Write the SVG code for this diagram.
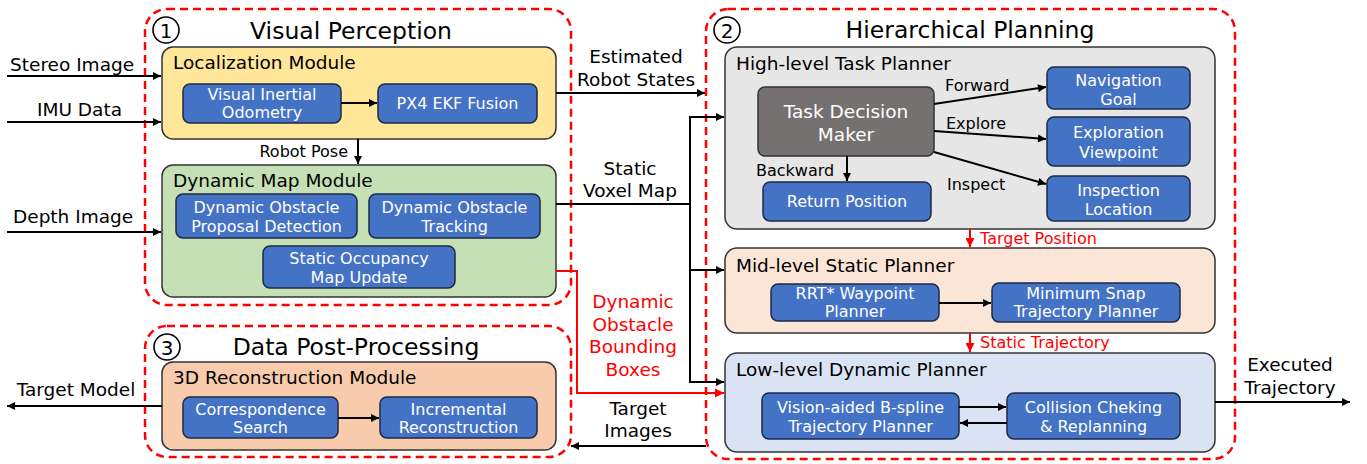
<svg xmlns="http://www.w3.org/2000/svg" width="1367" height="464" viewBox="0 0 1367 464">
<defs>
<style>
text{font-family:"DejaVu Sans","Liberation Sans",sans-serif;fill:#000}
.grp{fill:none;stroke:#FF0000;stroke-width:2.5;stroke-dasharray:8 5}
.mod{stroke:#333;stroke-width:1.5}
.blue{fill:#4472C4;stroke:#1E2A44;stroke-width:1.5}
.bt{fill:#fff;font-size:16px;text-anchor:middle}
.ml{font-size:18.5px}
.title{font-size:23.5px;text-anchor:middle}
.lab{font-size:18.5px}
.sl{font-size:16px}
.red{fill:#FF0000}
.cn{fill:none;stroke:#000;stroke-width:2}
.cr{fill:none;stroke:#FF0000;stroke-width:2}
.circ{fill:none;stroke:#000;stroke-width:1.6}
</style>
<marker id="ah" viewBox="0 0 10 10" refX="10" refY="5" markerWidth="9" markerHeight="8" markerUnits="userSpaceOnUse" orient="auto"><path d="M0,0 L10,5 L0,10 z" fill="#000"/></marker>
<marker id="ahr" viewBox="0 0 10 10" refX="10" refY="5" markerWidth="10" markerHeight="9" markerUnits="userSpaceOnUse" orient="auto"><path d="M0,0 L10,5 L0,10 z" fill="#FF0000"/></marker>
</defs>
<rect width="1367" height="464" fill="#fff"/>

<g id="group-visual-perception">
<rect class="grp" x="145" y="9" width="426" height="296" rx="22"/>
<circle class="circ" cx="166" cy="30" r="13"/>
<text x="166" y="37.5" font-size="20" text-anchor="middle">1</text>
<text class="title" x="351" y="39">Visual Perception</text>
</g>

<g id="localization-module">
<rect class="mod" x="162" y="47" width="394" height="92" rx="11" fill="#FFE699"/>
<text class="ml" x="173" y="69">Localization Module</text>
</g>
<g id="vio">
<rect class="blue" x="183" y="84" width="158" height="39" rx="7"/>
<text class="bt" x="262" y="100">Visual Inertial</text>
<text class="bt" x="262" y="118">Odometry</text>
</g>
<g id="px4">
<rect class="blue" x="378" y="84" width="159" height="39" rx="7"/>
<text class="bt" x="457.5" y="109">PX4 EKF Fusion</text>
</g>

<g id="dynamic-map-module">
<rect class="mod" x="162" y="165" width="394" height="132" rx="11" fill="#C5E0B4"/>
<text class="ml" x="173" y="187">Dynamic Map Module</text>
</g>
<g id="dopd">
<rect class="blue" x="176" y="194" width="181" height="44" rx="7"/>
<text class="bt" x="266.5" y="213">Dynamic Obstacle</text>
<text class="bt" x="266.5" y="232">Proposal Detection</text>
</g>
<g id="dot">
<rect class="blue" x="369" y="194" width="171" height="44" rx="7"/>
<text class="bt" x="454.5" y="213">Dynamic Obstacle</text>
<text class="bt" x="454.5" y="232">Tracking</text>
</g>
<g id="somu">
<rect class="blue" x="263" y="246" width="192" height="42" rx="7"/>
<text class="bt" x="359" y="264">Static Occupancy</text>
<text class="bt" x="359" y="283">Map Update</text>
</g>

<g id="group-data-post-processing">
<rect class="grp" x="145" y="326" width="426" height="131" rx="22"/>
<circle class="circ" cx="167" cy="347" r="13"/>
<text x="167" y="354.5" font-size="20" text-anchor="middle">3</text>
<text class="title" x="356" y="355">Data Post-Processing</text>
</g>
<g id="reconstruction-module">
<rect class="mod" x="162" y="362" width="394" height="88" rx="11" fill="#F8CBAD"/>
<text class="ml" x="173" y="384">3D Reconstruction Module</text>
</g>
<g id="correspondence">
<rect class="blue" x="183" y="397" width="155" height="41" rx="7"/>
<text class="bt" x="260.5" y="415">Correspondence</text>
<text class="bt" x="260.5" y="433">Search</text>
</g>
<g id="incremental">
<rect class="blue" x="380" y="397" width="157" height="41" rx="7"/>
<text class="bt" x="458.5" y="415">Incremental</text>
<text class="bt" x="458.5" y="433">Reconstruction</text>
</g>

<g id="group-hierarchical-planning">
<rect class="grp" x="706" y="9" width="529" height="450" rx="22"/>
<circle class="circ" cx="727" cy="30" r="13"/>
<text x="727" y="37.5" font-size="20" text-anchor="middle">2</text>
<text class="title" x="970" y="38">Hierarchical Planning</text>
</g>

<g id="high-level-task-planner">
<rect class="mod" x="725" y="47" width="490" height="182" rx="12" fill="#E7E6E6"/>
<text class="ml" x="736" y="70">High-level Task Planner</text>
</g>
<g id="task-decision-maker">
<rect x="758" y="87" width="176" height="69" rx="7" fill="#767171" stroke="#333" stroke-width="1.5"/>
<text x="846" y="118" font-size="18.5" text-anchor="middle" style="fill:#fff">Task Decision</text>
<text x="846" y="141" font-size="18.5" text-anchor="middle" style="fill:#fff">Maker</text>
</g>
<g id="return-position">
<rect class="blue" x="763" y="182" width="168" height="39" rx="7"/>
<text class="bt" x="847" y="207">Return Position</text>
</g>
<g id="navigation-goal">
<rect class="blue" x="1047" y="67" width="143" height="42" rx="7"/>
<text class="bt" x="1118.5" y="86">Navigation</text>
<text class="bt" x="1118.5" y="105">Goal</text>
</g>
<g id="exploration-viewpoint">
<rect class="blue" x="1047" y="117" width="143" height="49" rx="7"/>
<text class="bt" x="1118.5" y="138">Exploration</text>
<text class="bt" x="1118.5" y="158">Viewpoint</text>
</g>
<g id="inspection-location">
<rect class="blue" x="1047" y="176" width="143" height="45" rx="7"/>
<text class="bt" x="1118.5" y="196">Inspection</text>
<text class="bt" x="1118.5" y="215">Location</text>
</g>

<g id="mid-level-static-planner">
<rect class="mod" x="725" y="248" width="490" height="85" rx="12" fill="#FBE5D6"/>
<text class="ml" x="736" y="272">Mid-level Static Planner</text>
</g>
<g id="rrt">
<rect class="blue" x="771" y="284" width="168" height="37" rx="7"/>
<text class="bt" x="855" y="299">RRT* Waypoint</text>
<text class="bt" x="855" y="317">Planner</text>
</g>
<g id="min-snap">
<rect class="blue" x="992" y="283" width="188" height="39" rx="7"/>
<text class="bt" x="1086" y="299">Minimum Snap</text>
<text class="bt" x="1086" y="317">Trajectory Planner</text>
</g>

<g id="low-level-dynamic-planner">
<rect class="mod" x="725" y="353" width="490" height="99" rx="12" fill="#DAE3F3"/>
<text class="ml" x="736" y="376">Low-level Dynamic Planner</text>
</g>
<g id="bspline">
<rect class="blue" x="762" y="393" width="197" height="46" rx="7"/>
<text class="bt" x="860.5" y="413">Vision-aided B-spline</text>
<text class="bt" x="860.5" y="432">Trajectory Planner</text>
</g>
<g id="collision">
<rect class="blue" x="1007" y="393" width="173" height="46" rx="7"/>
<text class="bt" x="1093.5" y="413">Collision Cheking</text>
<text class="bt" x="1093.5" y="432">&amp; Replanning</text>
</g>

<g id="connectors">
<path class="cn" d="M7,76 H161" marker-end="url(#ah)"/>
<path class="cn" d="M7,122 H161" marker-end="url(#ah)"/>
<path class="cn" d="M7,232 H161" marker-end="url(#ah)"/>
<path class="cn" d="M162,406 H7" marker-end="url(#ah)"/>
<path class="cn" d="M341,103 H377" marker-end="url(#ah)"/>
<path class="cn" d="M358,139 V164" marker-end="url(#ah)"/>
<path class="cn" d="M338,418 H379" marker-end="url(#ah)"/>
<path class="cn" d="M556,93 H705" marker-end="url(#ah)"/>
<path class="cn" d="M556,204 H690"/>
<path class="cn" d="M690,117 V382"/>
<path class="cn" d="M689,117 H724" marker-end="url(#ah)"/>
<path class="cn" d="M690,270 H724" marker-end="url(#ah)"/>
<path class="cn" d="M689,382 H724" marker-end="url(#ah)"/>
<path class="cr" d="M556,271 H577 V393 H724" marker-end="url(#ahr)"/>
<path class="cn" d="M706,446 H571" marker-end="url(#ah)"/>
<path class="cn" d="M1215,402 H1350" marker-end="url(#ah)"/>
<path class="cn" d="M934,104 L1046,87" marker-end="url(#ah)"/>
<path class="cn" d="M934,131 L1046,139" marker-end="url(#ah)"/>
<path class="cn" d="M934,152 L1046,184" marker-end="url(#ah)"/>
<path class="cn" d="M847,156 V181" marker-end="url(#ah)"/>
<path class="cn" d="M939,303 H991" marker-end="url(#ah)"/>
<path class="cn" d="M959,407 H1006" marker-end="url(#ah)"/>
<path class="cn" d="M1007,423 H960" marker-end="url(#ah)"/>
<path class="cr" d="M970,229 V247" marker-end="url(#ahr)"/>
<path class="cr" d="M970,333 V352" marker-end="url(#ahr)"/>
</g>

<g id="connector-labels">
<text class="lab" x="10" y="71">Stereo Image</text>
<text class="lab" x="79.5" y="116" text-anchor="middle">IMU Data</text>
<text class="lab" x="13" y="223">Depth Image</text>
<text class="lab" x="76" y="396" text-anchor="middle">Target Model</text>
<text class="sl" x="348" y="157" text-anchor="end">Robot Pose</text>
<text class="lab" x="636" y="63" text-anchor="middle">Estimated</text>
<text class="lab" x="636" y="86" text-anchor="middle">Robot States</text>
<text class="lab" x="630" y="175" text-anchor="middle">Static</text>
<text class="lab" x="630" y="197" text-anchor="middle">Voxel Map</text>
<text class="lab red" x="633" y="308" text-anchor="middle">Dynamic</text>
<text class="lab red" x="633" y="331" text-anchor="middle">Obstacle</text>
<text class="lab red" x="633" y="353" text-anchor="middle">Bounding</text>
<text class="lab red" x="633" y="376" text-anchor="middle">Boxes</text>
<text class="lab" x="638" y="415" text-anchor="middle">Target</text>
<text class="lab" x="638" y="437" text-anchor="middle">Images</text>
<text class="lab" x="1290" y="371" text-anchor="middle">Executed</text>
<text class="lab" x="1290" y="394" text-anchor="middle">Trajectory</text>
<text class="sl" x="945" y="91">Forward</text>
<text class="sl" x="946" y="129">Explore</text>
<text class="sl" x="947" y="190">Inspect</text>
<text class="sl" x="756" y="176">Backward</text>
<text class="sl red" x="980" y="244">Target Position</text>
<text class="sl red" x="980" y="348">Static Trajectory</text>
</g>
</svg>
